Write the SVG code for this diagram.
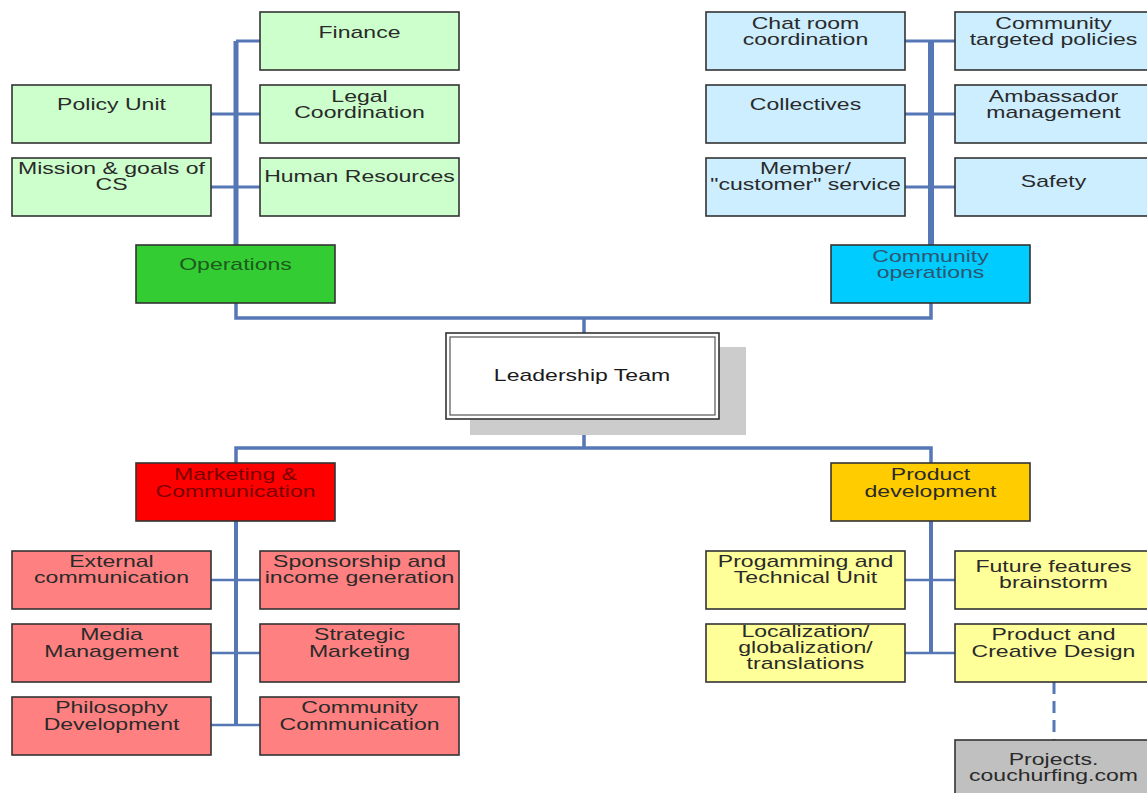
<svg xmlns="http://www.w3.org/2000/svg" width="1147" height="793" viewBox="0 0 1147 793">
<style>
  .box{stroke:#333;stroke-width:1.6}
  .lg{fill:#ccffcc}.g{fill:#33cc33}.lb{fill:#cceeff}.c{fill:#00ccff}
  .r{fill:#ff0000}.p{fill:#ff8080}.o{fill:#ffcc00}.y{fill:#ffff99}.gr{fill:#c0c0c0}
  text{font-family:"Liberation Sans",Arial,sans-serif;font-size:16px;fill:#2a2a2a;text-anchor:middle}
  .tg{fill:#1e5a1e}.tc{fill:#2f5670}.tr{fill:#7a0000}
  .ln{stroke:#5577b5;fill:none}
</style>
<rect width="1147" height="793" fill="#fff"/>
<g id="connectors">
  <path class="ln" stroke-width="5" d="M236 41V245"/>
  <path class="ln" stroke-width="3" d="M236 41H260M211 114H260M211 187H260"/>
  <path class="ln" stroke-width="6" d="M931 41V245"/>
  <path class="ln" stroke-width="3" d="M905 41H955M905 114H955M905 187H955"/>
  <path class="ln" stroke-width="3.5" d="M236 303V318H931V303M584 318V333"/>
  <path class="ln" stroke-width="3.5" d="M584 419V448M236 463V448H931V463"/>
  <path class="ln" stroke-width="4" d="M236 521V725"/>
  <path class="ln" stroke-width="2.5" d="M211 580H260M211 653H260M211 725H260"/>
  <path class="ln" stroke-width="4" d="M931 521V653"/>
  <path class="ln" stroke-width="2.5" d="M905 580H955M905 653H955"/>
  <path class="ln" stroke-width="3" stroke-dasharray="12 7" d="M1054 682V740"/>
</g>
<g id="finance"><rect class="box lg" x="260" y="12" width="199" height="58"/><text transform="translate(359.5 0) scale(1.44 1)" y="38">Finance</text></g>
<g id="policy-unit"><rect class="box lg" x="12" y="85" width="199" height="58"/><text transform="translate(111.5 0) scale(1.44 1)" y="110">Policy Unit</text></g>
<g id="legal"><rect class="box lg" x="260" y="85" width="199" height="58"/><text transform="translate(359.5 0) scale(1.44 1)"><tspan x="0" y="102.5">Legal</tspan><tspan x="0" y="118.5">Coordination</tspan></text></g>
<g id="mission"><rect class="box lg" x="12" y="158" width="199" height="58"/><text transform="translate(111.5 0) scale(1.44 1)"><tspan x="0" y="174.5">Mission &amp; goals of</tspan><tspan x="0" y="190.5">CS</tspan></text></g>
<g id="hr"><rect class="box lg" x="260" y="158" width="199" height="58"/><text transform="translate(359.5 0) scale(1.44 1)" y="182.5">Human Resources</text></g>
<g id="operations"><rect class="box g" x="136" y="245" width="199" height="58"/><text class="tg" transform="translate(235.5 0) scale(1.44 1)" y="270.5">Operations</text></g>

<g id="chat-room"><rect class="box lb" x="706" y="12" width="199" height="58"/><text transform="translate(805.5 0) scale(1.44 1)"><tspan x="0" y="29.5">Chat room</tspan><tspan x="0" y="45.5">coordination</tspan></text></g>
<g id="community-policies"><rect class="box lb" x="955" y="12" width="199" height="58"/><text transform="translate(1053.5 0) scale(1.44 1)"><tspan x="0" y="29.5">Community</tspan><tspan x="0" y="45.5">targeted policies</tspan></text></g>
<g id="collectives"><rect class="box lb" x="706" y="85" width="199" height="58"/><text transform="translate(805.5 0) scale(1.44 1)" y="110">Collectives</text></g>
<g id="ambassador"><rect class="box lb" x="955" y="85" width="199" height="58"/><text transform="translate(1053.5 0) scale(1.44 1)"><tspan x="0" y="102.5">Ambassador</tspan><tspan x="0" y="118.5">management</tspan></text></g>
<g id="member-service"><rect class="box lb" x="706" y="158" width="199" height="58"/><text transform="translate(805.5 0) scale(1.44 1)"><tspan x="0" y="174.5">Member/</tspan><tspan x="0" y="190.5">"customer" service</tspan></text></g>
<g id="safety"><rect class="box lb" x="955" y="158" width="199" height="58"/><text transform="translate(1053.5 0) scale(1.44 1)" y="187.5">Safety</text></g>
<g id="community-operations"><rect class="box c" x="831" y="245" width="199" height="58"/><text class="tc" transform="translate(930.5 0) scale(1.44 1)"><tspan x="0" y="262.5">Community</tspan><tspan x="0" y="278.5">operations</tspan></text></g>

<g id="leadership-team">
  <rect x="470" y="347" width="276" height="88" fill="#cccccc"/>
  <rect x="446" y="333" width="273" height="86" fill="#fff" stroke="#333" stroke-width="1.6"/>
  <rect x="450" y="337" width="265" height="78" fill="#fff" stroke="#555" stroke-width="1.2"/>
  <text transform="translate(582 0) scale(1.44 1)" y="381.5" style="fill:#1a1a1a">Leadership Team</text>
</g>

<g id="marketing"><rect class="box r" x="136" y="463" width="199" height="58"/><text class="tr" transform="translate(235.5 0) scale(1.44 1)"><tspan x="0" y="480.5">Marketing &amp;</tspan><tspan x="0" y="497.5">Communication</tspan></text></g>
<g id="external-communication"><rect class="box p" x="12" y="551" width="199" height="58"/><text transform="translate(111.5 0) scale(1.44 1)"><tspan x="0" y="567.5">External</tspan><tspan x="0" y="583.5">communication</tspan></text></g>
<g id="sponsorship"><rect class="box p" x="260" y="551" width="199" height="58"/><text transform="translate(359.5 0) scale(1.44 1)"><tspan x="0" y="567.5">Sponsorship and</tspan><tspan x="0" y="583.5">income generation</tspan></text></g>
<g id="media-management"><rect class="box p" x="12" y="624" width="199" height="58"/><text transform="translate(111.5 0) scale(1.44 1)"><tspan x="0" y="640.5">Media</tspan><tspan x="0" y="657.5">Management</tspan></text></g>
<g id="strategic-marketing"><rect class="box p" x="260" y="624" width="199" height="58"/><text transform="translate(359.5 0) scale(1.44 1)"><tspan x="0" y="640.5">Strategic</tspan><tspan x="0" y="657.5">Marketing</tspan></text></g>
<g id="philosophy"><rect class="box p" x="12" y="697" width="199" height="58"/><text transform="translate(111.5 0) scale(1.44 1)"><tspan x="0" y="713.5">Philosophy</tspan><tspan x="0" y="730.5">Development</tspan></text></g>
<g id="community-communication"><rect class="box p" x="260" y="697" width="199" height="58"/><text transform="translate(359.5 0) scale(1.44 1)"><tspan x="0" y="713.5">Community</tspan><tspan x="0" y="730.5">Communication</tspan></text></g>

<g id="product-development"><rect class="box o" x="831" y="463" width="199" height="58"/><text transform="translate(930.5 0) scale(1.44 1)"><tspan x="0" y="480.5">Product</tspan><tspan x="0" y="497.5">development</tspan></text></g>
<g id="programming"><rect class="box y" x="706" y="551" width="199" height="58"/><text transform="translate(805.5 0) scale(1.44 1)"><tspan x="0" y="567.5">Progamming and</tspan><tspan x="0" y="583.5">Technical Unit</tspan></text></g>
<g id="future-features"><rect class="box y" x="955" y="551" width="199" height="58"/><text transform="translate(1053.5 0) scale(1.44 1)"><tspan x="0" y="572.5">Future features</tspan><tspan x="0" y="588.5">brainstorm</tspan></text></g>
<g id="localization"><rect class="box y" x="706" y="624" width="199" height="58"/><text transform="translate(805.5 0) scale(1.44 1)"><tspan x="0" y="637.5">Localization/</tspan><tspan x="0" y="653.5">globalization/</tspan><tspan x="0" y="669.5">translations</tspan></text></g>
<g id="creative-design"><rect class="box y" x="955" y="624" width="199" height="58"/><text transform="translate(1053.5 0) scale(1.44 1)"><tspan x="0" y="640.5">Product and</tspan><tspan x="0" y="657.5">Creative Design</tspan></text></g>
<g id="projects"><rect class="box gr" x="955" y="740" width="199" height="58"/><text transform="translate(1053.5 0) scale(1.44 1)"><tspan x="0" y="765.5">Projects.</tspan><tspan x="0" y="781.5">couchurfing.com</tspan></text></g>
</svg>
